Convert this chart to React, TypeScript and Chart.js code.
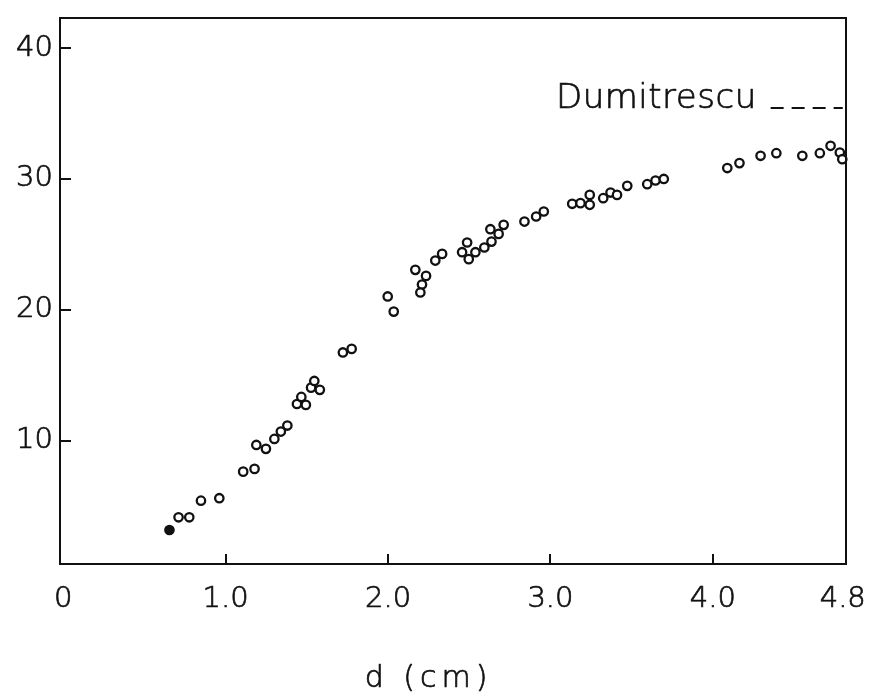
import React, { useEffect, useRef } from "react";
import { Chart, registerables } from "chart.js";

Chart.register(...registerables);

// d (cm) values
const dValues: number[] = [
  0.654, 0.71, 0.776, 0.848, 0.961, 1.108, 1.178, 1.189, 1.248, 1.3, 1.34, 1.38,
  1.439, 1.494, 1.466, 1.526, 1.58, 1.546, 1.722, 1.776, 1.998, 2.035, 2.168, 2.234,
  2.209, 2.199, 2.291, 2.333, 2.456, 2.487, 2.497, 2.538, 2.593, 2.637, 2.63, 2.681,
  2.712, 2.84, 2.912, 2.959, 3.134, 3.185, 3.242, 3.242, 3.325, 3.37, 3.41, 3.473,
  3.596, 3.647, 3.698, 4.089, 4.164, 4.294, 4.391, 4.551, 4.659, 4.725, 4.782, 4.797,
];
// measured values
const yValues: number[] = [
  3.17, 4.14, 4.14, 5.41, 5.6, 7.63, 7.84, 9.67, 9.37, 10.13, 10.69, 11.15,
  12.8, 12.73, 13.34, 14.05, 13.88, 14.56, 16.74, 17.01, 21.02, 19.86, 23.05, 22.59,
  21.93, 21.32, 23.76, 24.27, 24.4, 25.14, 23.87, 24.4, 24.76, 25.21, 26.16, 25.8,
  26.49, 26.74, 27.13, 27.51, 28.1, 28.15, 28.78, 28.02, 28.53, 28.96, 28.78, 29.47,
  29.6, 29.88, 30.0, 30.83, 31.21, 31.77, 31.97, 31.77, 31.97, 32.53, 32.02, 31.51,
];
// Dumitrescu reference line
const dumitrescuLabel = "Dumitrescu";
const dumitrescuX: number[] = [4.356, 4.8];
const dumitrescuY: number[] = [35.43, 35.43];

const xTickValues: number[] = [0, 1, 2, 3, 4, 4.8];
const yTickValues: number[] = [10, 20, 30, 40];
const xTitle = "d (cm)";

const FONT = "'DejaVu Sans'";

const drawText = (ctx: any, text: string, x: number, y: number) => {
  ctx.fillText(text, x, y);
  ctx.strokeText(text, x, y);
};

const framePlugin = {
  id: "frame",
  afterDraw(chart: any) {
    const { ctx, chartArea } = chart;
    const xs = chart.scales.x;
    const ys = chart.scales.y;
    ctx.save();
    ctx.strokeStyle = "#111";
    ctx.lineWidth = 2;
    ctx.strokeRect(chartArea.left, chartArea.top, chartArea.right - chartArea.left, chartArea.bottom - chartArea.top);
    ctx.beginPath();
    for (const v of xTickValues) {
      if (v <= 0 || v >= 4.8) continue;
      const px = Math.round(xs.getPixelForValue(v));
      ctx.moveTo(px, chartArea.bottom);
      ctx.lineTo(px, chartArea.bottom - 10);
    }
    for (const v of yTickValues) {
      const py = Math.round(ys.getPixelForValue(v));
      ctx.moveTo(chartArea.left, py);
      ctx.lineTo(chartArea.left + 11, py);
    }
    ctx.stroke();
    ctx.fillStyle = "#111";
    ctx.lineWidth = 0.7;
    ctx.lineJoin = "round";
    ctx.font = `300 30px ${FONT}`;
    ctx.textAlign = "center";
    ctx.textBaseline = "alphabetic";
    (ctx as any).letterSpacing = "5px";
    drawText(ctx, xTitle, xs.getPixelForValue(2.25), chartArea.bottom + 123);
    ctx.font = `300 34px ${FONT}`;
    (ctx as any).letterSpacing = "0.5px";
    ctx.textAlign = "right";
    drawText(ctx, dumitrescuLabel, xs.getPixelForValue(4.27), ys.getPixelForValue(dumitrescuY[0]));
    ctx.restore();
  },
};

export default function App() {
  const ref = useRef<HTMLCanvasElement>(null);
  useEffect(() => {
    if (!ref.current) return;
    const chart = new Chart(ref.current, {
      type: "scatter",
      data: {
        datasets: [
          {
            label: "data",
            data: dValues.map((x, i) => ({ x, y: yValues[i] })),
            pointRadius: 4.2,
            pointBorderWidth: 2.3,
            pointBorderColor: "#111",
            pointBackgroundColor: (c: any) => (c.dataIndex === 0 ? "#111" : "#fff"),
            clip: false,
          } as any,
          {
            label: dumitrescuLabel,
            data: dumitrescuX.map((x, i) => ({ x, y: dumitrescuY[i] })),
            showLine: true,
            pointRadius: 0,
            borderColor: "#111",
            borderWidth: 2,
            borderDash: [13, 8],
            clip: false,
          } as any,
        ],
      },
      plugins: [framePlugin],
      options: {
        responsive: false,
        animation: false,
        layout: { padding: { top: 18, right: 30, left: 0, bottom: 0 } },
        plugins: { legend: { display: false }, tooltip: { enabled: false } },
        scales: {
          x: {
            type: "linear",
            min: -0.02,
            max: 4.82,
            afterFit: (s: any) => {
              s.height = 130;
              s.paddingLeft = 0;
              s.paddingRight = 0;
            },
            afterBuildTicks: (s: any) => { s.ticks = xTickValues.map((v) => ({ value: v })); },
            grid: { display: false, drawTicks: false },
            border: { display: false },
            ticks: {
              padding: 18,
              color: "#111",
              textStrokeColor: "#111",
              textStrokeWidth: 0.7,
              font: { family: FONT, size: 29, weight: "300" },
              callback: (v: any) => (Number(v) === 0 ? "0" : Number(v).toFixed(1)),
            },
          },
          y: {
            type: "linear",
            min: 0.57,
            max: 42.3,
            afterFit: (s: any) => {
              s.width = 60;
              s.paddingTop = 0;
              s.paddingBottom = 0;
            },
            afterBuildTicks: (s: any) => { s.ticks = yTickValues.map((v) => ({ value: v })); },
            grid: { display: false, drawTicks: false },
            border: { display: false },
            ticks: {
              padding: 7,
              color: "#111",
              textStrokeColor: "#111",
              textStrokeWidth: 0.7,
              font: { family: FONT, size: 29, weight: "300" },
              callback: (v: any) => String(v),
            },
          },
        },
      },
    });
    return () => chart.destroy();
  }, []);
  return (
    <div style={{ position: "fixed", left: 0, top: 0, width: 876, height: 694, background: "#fff" }}>
      <canvas ref={ref} width={876} height={694} style={{ width: 876, height: 694 }} />
    </div>
  );
}
